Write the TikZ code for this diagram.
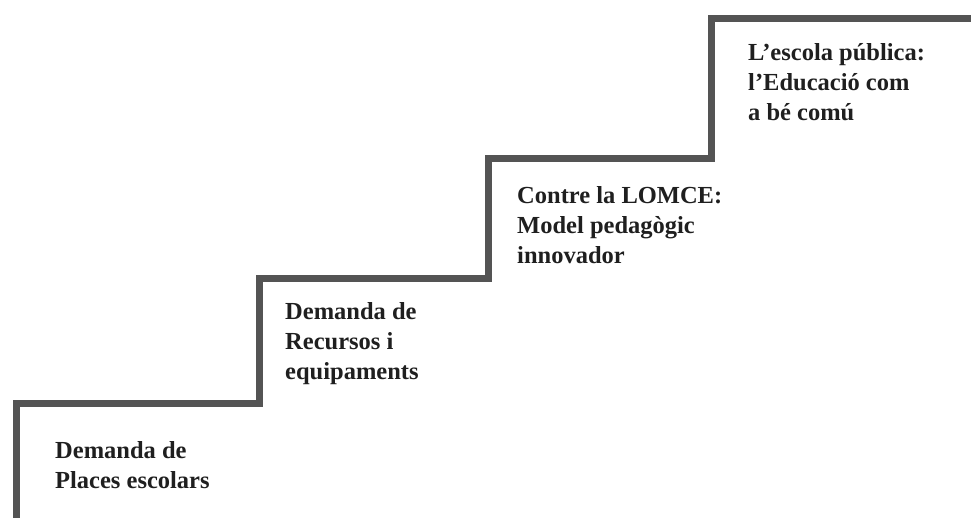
\documentclass[tikz,border=0pt]{standalone}
\usepackage{fontspec}
\setmainfont{Liberation Serif}
\begin{document}
\begin{tikzpicture}[x=1pt,y=-1pt,
  stair/.style={draw=black!67, line width=7pt, line cap=butt, line join=miter},
  lbl/.style={anchor=north west, inner sep=0pt, align=left, text=black!88,
    font=\fontsize{24.5}{30}\selectfont\bfseries}]
\useasboundingbox (0,0) rectangle (971,518);
\coordinate (s0) at (16.5,525);
\coordinate (s1) at (16.5,403.5);
\coordinate (s2) at (259,403.5);
\coordinate (s3) at (259,278.5);
\coordinate (s4) at (488.5,278.5);
\coordinate (s5) at (488.5,158.5);
\coordinate (s6) at (711,158.5);
\coordinate (s7) at (711,18.5);
\coordinate (s8) at (980,18.5);
\draw[stair] (s0) -- (s1) -- (s2) -- (s3) -- (s4) -- (s5) -- (s6) -- (s7) -- (s8);
\node[lbl] (t1) at (55,441) {Demanda de\\Places escolars};
\node[lbl] (t2) at (285,302) {Demanda de\\Recursos i\\equipaments};
\node[lbl] (t3) at (517,186) {Contre la LOMCE:\\Model pedagògic\\innovador};
\node[lbl] (t4) at (748,43) {L’escola pública:\\l’Educació com\\a bé comú};
\end{tikzpicture}
\end{document}
